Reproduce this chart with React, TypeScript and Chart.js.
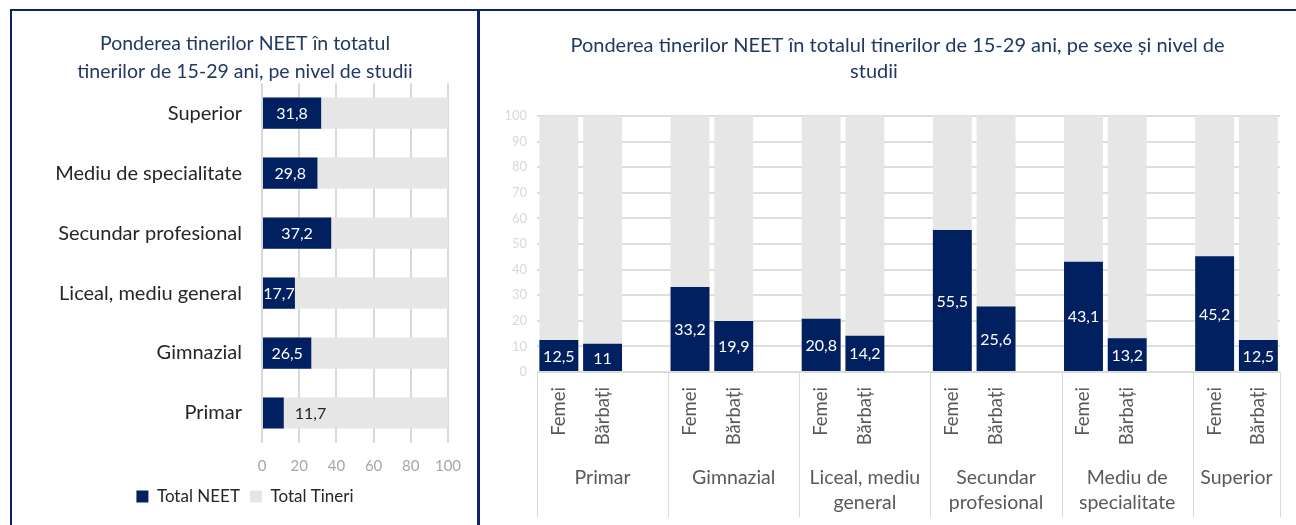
import React, { useEffect, useRef } from 'react';
import { Chart, registerables } from 'chart.js';

Chart.register(...registerables);

const NAVY = '#002060';
const GRAY_BAR = '#e7e6e6';
const GRID = '#d9d9d9';
const TITLE_COLOR = '#1f3864';
const FONT = 'Lato, "Open Sans", sans-serif';

// ---- Left chart data ----
const levelCategories = [
  'Superior',
  'Mediu de specialitate',
  'Secundar profesional',
  'Liceal, mediu general',
  'Gimnazial',
  'Primar',
];
const totalNeet = [31.8, 29.8, 37.2, 17.7, 26.5, 11.7];
const totalTineri = [100, 100, 100, 100, 100, 100];
const leftTitle = ['Ponderea tinerilor NEET în totatul', 'tinerilor de 15-29 ani, pe nivel de studii'];
const leftSeriesNames = ['Total NEET', 'Total Tineri'];

// ---- Right chart data ----
const groupLabels = [
  ['Primar'],
  ['Gimnazial'],
  ['Liceal, mediu', 'general'],
  ['Secundar', 'profesional'],
  ['Mediu de', 'specialitate'],
  ['Superior'],
];
const sexLabels = ['Femei', 'Bărbați'];
const femeiNeet = [12.5, 33.2, 20.8, 55.5, 43.1, 45.2];
const barbatiNeet = [11, 19.9, 14.2, 25.6, 13.2, 12.5];
const sexTotal = [100, 100, 100, 100, 100, 100];
const rightTitle = [
  'Ponderea tinerilor NEET în totalul tinerilor de 15-29 ani, pe sexe și nivel de',
  'studii',
];

// build flat category list: Femei, Bărbați, (blank spacer) per group
const rightLabels: string[] = [];
const rightNeet: (number | null)[] = [];
const rightTotal: (number | null)[] = [];
groupLabels.forEach((_, i) => {
  rightLabels.push(sexLabels[0], sexLabels[1]);
  rightNeet.push(femeiNeet[i], barbatiNeet[i]);
  rightTotal.push(sexTotal[i], sexTotal[i]);
  if (i < groupLabels.length - 1) {
    rightLabels.push('');
    rightNeet.push(null);
    rightTotal.push(null);
  }
});

const fmt = (v: number) => String(v).replace('.', ',');

const valueLabels = {
  id: 'valueLabels',
  afterDatasetsDraw(chart: any) {
    const ctx = chart.ctx;
    const meta = chart.getDatasetMeta(0);
    const data = chart.data.datasets[0].data;
    const horizontal = chart.options.indexAxis === 'y';
    ctx.save();
    ctx.font = `16px ${FONT}`;
    ctx.textBaseline = 'middle';
    meta.data.forEach((el: any, i: number) => {
      const v = data[i];
      if (v == null) return;
      const { x, y, base } = el.getProps(['x', 'y', 'base'], true);
      const txt = fmt(v);
      const w = ctx.measureText(txt).width;
      if (horizontal) {
        const len = Math.abs(x - base);
        if (w <= len + 3) {
          ctx.fillStyle = '#ffffff';
          ctx.textAlign = 'center';
          ctx.fillText(txt, (x + base) / 2, y + 1);
        } else {
          ctx.fillStyle = '#262626';
          ctx.textAlign = 'left';
          ctx.fillText(txt, x + 11, y + 1);
        }
      } else {
        ctx.fillStyle = '#ffffff';
        ctx.textAlign = 'center';
        ctx.fillText(txt, x, (y + base) / 2 + 1);
      }
    });
    ctx.restore();
  },
};

// Title drawn line by line (the second line of the reference title sits left of the first one's centre)
const lineTitle = {
  id: 'lineTitle',
  afterDraw(chart: any, _args: any, opts: any) {
    if (!opts || !opts.lines) return;
    const ctx = chart.ctx;
    ctx.save();
    ctx.font = `${opts.size}px ${FONT}`;
    ctx.fillStyle = TITLE_COLOR;
    ctx.textAlign = 'center';
    ctx.textBaseline = 'middle';
    opts.lines.forEach((ln: string, k: number) => {
      ctx.fillText(ln, opts.centers[k], opts.ys[k]);
    });
    ctx.restore();
  },
};

const groupAxis = {
  id: 'groupAxis',
  afterDraw(chart: any) {
    const xs = chart.scales.x;
    const { ctx, chartArea } = chart;
    const n = chart.data.labels.length;
    const cw = xs.getPixelForValue(1) - xs.getPixelForValue(0);
    const bottom = chart.height - 8;
    ctx.save();
    ctx.strokeStyle = GRID;
    ctx.lineWidth = 1;
    ctx.font = `19.5px ${FONT}`;
    ctx.fillStyle = '#595959';
    ctx.textAlign = 'center';
    ctx.textBaseline = 'middle';
    const vline = (px: number) => {
      const xx = Math.round(px) + 0.5;
      ctx.beginPath();
      ctx.moveTo(xx, chartArea.bottom);
      ctx.lineTo(xx, bottom);
      ctx.stroke();
    };
    groupLabels.forEach((lines, g) => {
      const first = g * 3;
      const last = Math.min(g * 3 + 2, n - 1);
      const left = xs.getPixelForValue(first) - cw / 2;
      const right = xs.getPixelForValue(last) + cw / 2;
      vline(left);
      if (g === groupLabels.length - 1) vline(right);
      lines.forEach((ln, k) => {
        ctx.fillText(ln, (left + right) / 2, chartArea.bottom + 106 + k * 25);
      });
    });
    ctx.restore();
  },
};

function LeftChart() {
  const ref = useRef<HTMLCanvasElement | null>(null);
  useEffect(() => {
    if (!ref.current) return;
    const chart = new Chart(ref.current, {
      type: 'bar',
      data: {
        labels: levelCategories,
        datasets: [
          {
            label: leftSeriesNames[0],
            data: totalNeet,
            backgroundColor: NAVY,
            grouped: false,
            barPercentage: 0.52,
            categoryPercentage: 1,
          } as any,
          {
            label: leftSeriesNames[1],
            data: totalTineri,
            backgroundColor: GRAY_BAR,
            grouped: false,
            barPercentage: 0.52,
            categoryPercentage: 1,
          } as any,
        ],
      },
      options: {
        indexAxis: 'y',
        animation: false,
        responsive: false,
        layout: { padding: { left: 30, right: 29, top: 0, bottom: 10 } },
        plugins: {
          tooltip: { enabled: false },
          title: {
            display: true,
            text: leftTitle,
            color: TITLE_COLOR,
            font: { family: FONT, size: 19.5, weight: 'normal', lineHeight: 1.44 },
            padding: { top: 19, bottom: -3 },
          },
          legend: {
            position: 'bottom',
            labels: {
              boxWidth: 12,
              boxHeight: 12,
              color: '#262626',
              font: { family: FONT, size: 17 },
              padding: 10,
            },
          },
        },
        scales: {
          x: {
            min: 0,
            max: 100,
            ticks: { stepSize: 20, color: '#a6a6a6', font: { family: FONT, size: 15 }, padding: 14 },
            grid: { color: GRID, lineWidth: 2, drawTicks: false },
            border: { display: false },
            afterFit: (s: any) => {
              s.height = 35;
            },
          },
          y: {
            grid: { display: false, drawTicks: false },
            border: { display: false },
            ticks: { color: '#262626', font: { family: FONT, size: 20 }, padding: 20 },
            afterFit: (s: any) => {
              s.width = 220;
            },
          },
        },
      } as any,
      plugins: [valueLabels],
    });
    return () => chart.destroy();
  }, []);
  return <canvas ref={ref} width={465} height={514} />;
}

function RightChart() {
  const ref = useRef<HTMLCanvasElement | null>(null);
  useEffect(() => {
    if (!ref.current) return;
    const chart = new Chart(ref.current, {
      type: 'bar',
      data: {
        labels: rightLabels,
        datasets: [
          {
            label: 'NEET',
            data: rightNeet,
            backgroundColor: NAVY,
            grouped: false,
            barPercentage: 0.89,
            categoryPercentage: 1,
          } as any,
          {
            label: 'Total',
            data: rightTotal,
            backgroundColor: GRAY_BAR,
            grouped: false,
            barPercentage: 0.89,
            categoryPercentage: 1,
          } as any,
        ],
      },
      options: {
        animation: false,
        responsive: false,
        layout: { padding: { left: 0, right: 15, top: 105, bottom: 0 } },
        plugins: {
          legend: { display: false },
          tooltip: { enabled: false },
          title: { display: false },
          lineTitle: { lines: rightTitle, size: 20, centers: [417.5, 394], ys: [35, 61] },
        },
        scales: {
          x: {
            grid: { display: false, drawTicks: false },
            border: { display: true, color: GRID },
            ticks: {
              autoSkip: false,
              maxRotation: 90,
              minRotation: 90,
              padding: 15,
              color: '#595959',
              font: { family: FONT, size: 18.5 },
            },
            afterFit: (s: any) => {
              s.height = 153;
            },
          },
          y: {
            min: 0,
            max: 100,
            ticks: { stepSize: 10, color: '#d9d9d9', font: { family: FONT, size: 13 }, padding: 10 },
            grid: { color: '#dedede', lineWidth: 2, drawTicks: false },
            border: { display: false },
            afterFit: (s: any) => {
              s.width = 57;
            },
          },
        },
      } as any,
      plugins: [valueLabels, groupAxis, lineTitle],
    });
    return () => chart.destroy();
  }, []);
  return <canvas ref={ref} width={816} height={514} />;
}

export default function App() {
  const border = '#0b2463';
  return (
    <div
      style={{
        position: 'absolute',
        left: 0,
        top: 0,
        width: 1296,
        height: 525,
        overflow: 'hidden',
        background: '#ffffff',
      }}
    >
      <div style={{ position: 'absolute', left: 12, top: 11 }}>
        <LeftChart />
      </div>
      <div style={{ position: 'absolute', left: 480, top: 11 }}>
        <RightChart />
      </div>
      <div style={{ position: 'absolute', left: 10, top: 9, width: 1286, height: 2, background: border }} />
      <div style={{ position: 'absolute', left: 10, top: 9, width: 2, height: 516, background: border }} />
      <div style={{ position: 'absolute', left: 477, top: 9, width: 3, height: 516, background: border }} />
    </div>
  );
}
